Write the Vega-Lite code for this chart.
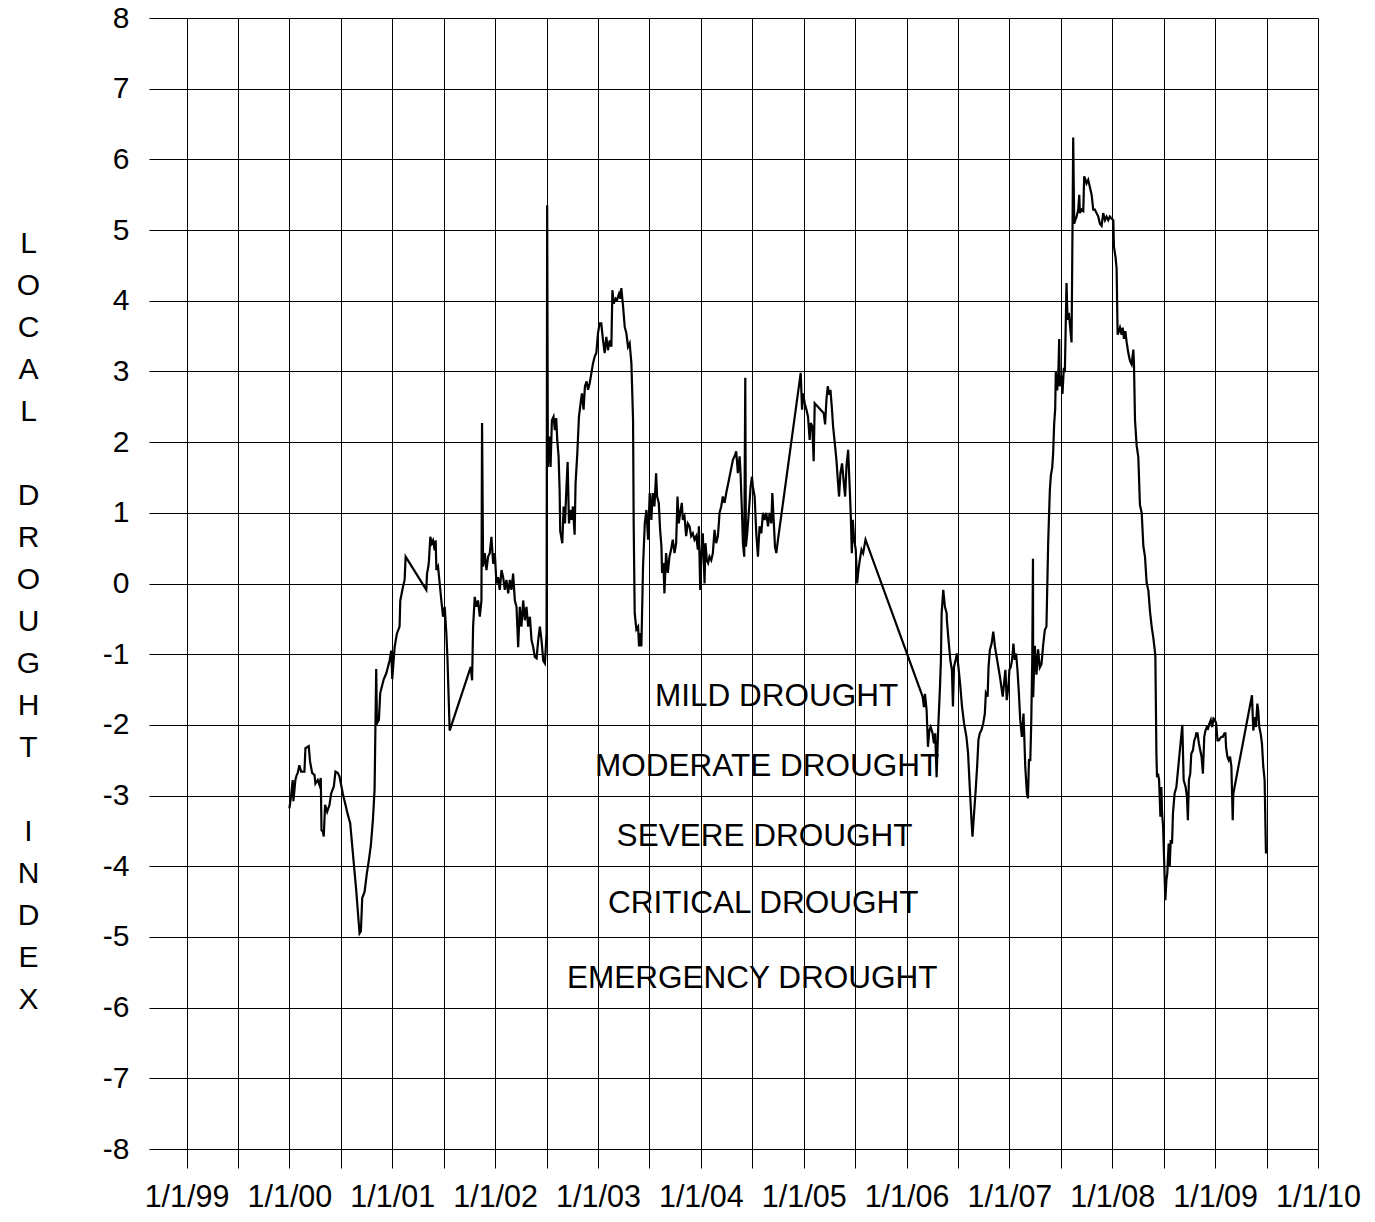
{
  "$schema": "https://vega.github.io/schema/vega-lite/v6.json",
  "width": 1169,
  "height": 1131,
  "autosize": {"type": "none"},
  "padding": {"left": 149, "top": 18, "right": 57, "bottom": 73},
  "background": "white",
  "config": {
    "font": "Liberation Sans",
    "view": {"stroke": null},
    "axis": {"labelColor": "black", "titleColor": "black", "labelFont": "Liberation Sans", "titleFont": "Liberation Sans"}
  },
  "datasets": {
    "ldi": [
      {"year": 2000.000, "index": -3.18}, {"year": 2000.016, "index": -3.01}, {"year": 2000.032, "index": -2.78}, {"year": 2000.039, "index": -3.08},
      {"year": 2000.058, "index": -2.78}, {"year": 2000.071, "index": -2.71}, {"year": 2000.081, "index": -2.68}, {"year": 2000.097, "index": -2.57},
      {"year": 2000.114, "index": -2.66}, {"year": 2000.146, "index": -2.66}, {"year": 2000.156, "index": -2.33}, {"year": 2000.188, "index": -2.30},
      {"year": 2000.201, "index": -2.52}, {"year": 2000.221, "index": -2.68}, {"year": 2000.244, "index": -2.71}, {"year": 2000.253, "index": -2.83},
      {"year": 2000.276, "index": -2.78}, {"year": 2000.292, "index": -2.85}, {"year": 2000.305, "index": -2.75}, {"year": 2000.312, "index": -3.49},
      {"year": 2000.325, "index": -3.51}, {"year": 2000.334, "index": -3.58}, {"year": 2000.347, "index": -3.13}, {"year": 2000.367, "index": -3.23},
      {"year": 2000.390, "index": -3.13}, {"year": 2000.406, "index": -2.97}, {"year": 2000.432, "index": -2.87}, {"year": 2000.448, "index": -2.66},
      {"year": 2000.471, "index": -2.68}, {"year": 2000.487, "index": -2.73}, {"year": 2000.519, "index": -2.97}, {"year": 2000.568, "index": -3.27},
      {"year": 2000.591, "index": -3.39}, {"year": 2000.623, "index": -3.91}, {"year": 2000.649, "index": -4.33}, {"year": 2000.682, "index": -4.95},
      {"year": 2000.695, "index": -4.92}, {"year": 2000.708, "index": -4.45}, {"year": 2000.731, "index": -4.36}, {"year": 2000.753, "index": -4.10},
      {"year": 2000.773, "index": -3.91}, {"year": 2000.792, "index": -3.70}, {"year": 2000.812, "index": -3.34}, {"year": 2000.828, "index": -2.92},
      {"year": 2000.844, "index": -1.21}, {"year": 2000.851, "index": -1.98}, {"year": 2000.870, "index": -1.93}, {"year": 2000.883, "index": -1.55},
      {"year": 2000.916, "index": -1.36}, {"year": 2000.942, "index": -1.27}, {"year": 2000.974, "index": -1.09}, {"year": 2000.990, "index": -0.95},
      {"year": 2001.000, "index": -1.35}, {"year": 2001.023, "index": -0.90}, {"year": 2001.045, "index": -0.71}, {"year": 2001.071, "index": -0.61},
      {"year": 2001.078, "index": -0.24}, {"year": 2001.104, "index": -0.05}, {"year": 2001.120, "index": 0.05}, {"year": 2001.130, "index": 0.38},
      {"year": 2001.331, "index": -0.09}, {"year": 2001.338, "index": 0.14}, {"year": 2001.351, "index": 0.24}, {"year": 2001.357, "index": 0.33},
      {"year": 2001.370, "index": 0.66}, {"year": 2001.383, "index": 0.57}, {"year": 2001.396, "index": 0.61}, {"year": 2001.412, "index": 0.47},
      {"year": 2001.422, "index": 0.61}, {"year": 2001.429, "index": 0.19}, {"year": 2001.445, "index": 0.24}, {"year": 2001.461, "index": 0.0},
      {"year": 2001.477, "index": -0.24}, {"year": 2001.494, "index": -0.47}, {"year": 2001.510, "index": -0.33}, {"year": 2001.526, "index": -0.71},
      {"year": 2001.536, "index": -1.04}, {"year": 2001.558, "index": -2.08}, {"year": 2001.763, "index": -1.18}, {"year": 2001.776, "index": -1.37},
      {"year": 2001.786, "index": -0.61}, {"year": 2001.802, "index": -0.19}, {"year": 2001.818, "index": -0.33}, {"year": 2001.834, "index": -0.24},
      {"year": 2001.851, "index": -0.47}, {"year": 2001.867, "index": -0.24}, {"year": 2001.873, "index": 2.27}, {"year": 2001.883, "index": 0.24},
      {"year": 2001.899, "index": 0.43}, {"year": 2001.916, "index": 0.19}, {"year": 2001.932, "index": 0.38}, {"year": 2001.948, "index": 0.43},
      {"year": 2001.964, "index": 0.66}, {"year": 2001.981, "index": 0.28}, {"year": 2001.997, "index": 0.43}, {"year": 2002.013, "index": 0.0},
      {"year": 2002.029, "index": 0.09}, {"year": 2002.045, "index": -0.09}, {"year": 2002.062, "index": 0.19}, {"year": 2002.078, "index": 0.09},
      {"year": 2002.094, "index": -0.09}, {"year": 2002.110, "index": 0.05}, {"year": 2002.127, "index": -0.14}, {"year": 2002.143, "index": 0.05},
      {"year": 2002.159, "index": -0.09}, {"year": 2002.175, "index": 0.14}, {"year": 2002.192, "index": -0.24}, {"year": 2002.208, "index": -0.33},
      {"year": 2002.224, "index": -0.90}, {"year": 2002.240, "index": -0.33}, {"year": 2002.256, "index": -0.61}, {"year": 2002.273, "index": -0.24},
      {"year": 2002.289, "index": -0.52}, {"year": 2002.305, "index": -0.33}, {"year": 2002.321, "index": -0.61}, {"year": 2002.338, "index": -0.47},
      {"year": 2002.354, "index": -0.80}, {"year": 2002.370, "index": -0.90}, {"year": 2002.386, "index": -1.04}, {"year": 2002.403, "index": -1.06},
      {"year": 2002.419, "index": -0.80}, {"year": 2002.435, "index": -0.61}, {"year": 2002.451, "index": -0.80}, {"year": 2002.468, "index": -1.09},
      {"year": 2002.484, "index": -1.13}, {"year": 2002.500, "index": -0.71}, {"year": 2002.506, "index": 5.35}, {"year": 2002.513, "index": 1.65},
      {"year": 2002.529, "index": 2.08}, {"year": 2002.539, "index": 1.65}, {"year": 2002.552, "index": 2.31}, {"year": 2002.568, "index": 2.36},
      {"year": 2002.581, "index": 2.17}, {"year": 2002.594, "index": 2.34}, {"year": 2002.604, "index": 2.03}, {"year": 2002.617, "index": 1.80},
      {"year": 2002.627, "index": 1.32}, {"year": 2002.633, "index": 0.74}, {"year": 2002.653, "index": 0.57}, {"year": 2002.666, "index": 1.09},
      {"year": 2002.679, "index": 0.85}, {"year": 2002.692, "index": 1.32}, {"year": 2002.705, "index": 1.72}, {"year": 2002.718, "index": 0.85},
      {"year": 2002.731, "index": 1.04}, {"year": 2002.744, "index": 0.90}, {"year": 2002.756, "index": 1.09}, {"year": 2002.773, "index": 0.69},
      {"year": 2002.782, "index": 1.42}, {"year": 2002.799, "index": 1.84}, {"year": 2002.815, "index": 2.36}, {"year": 2002.831, "index": 2.55},
      {"year": 2002.844, "index": 2.69}, {"year": 2002.860, "index": 2.46}, {"year": 2002.873, "index": 2.79}, {"year": 2002.890, "index": 2.86},
      {"year": 2002.903, "index": 2.74}, {"year": 2002.919, "index": 2.83}, {"year": 2002.935, "index": 2.97}, {"year": 2002.951, "index": 3.11},
      {"year": 2002.968, "index": 3.21}, {"year": 2002.984, "index": 3.26}, {"year": 2003.000, "index": 3.54}, {"year": 2003.016, "index": 3.68},
      {"year": 2003.032, "index": 3.68}, {"year": 2003.049, "index": 3.44}, {"year": 2003.065, "index": 3.26}, {"year": 2003.081, "index": 3.49},
      {"year": 2003.097, "index": 3.30}, {"year": 2003.114, "index": 3.44}, {"year": 2003.130, "index": 3.35}, {"year": 2003.140, "index": 4.15},
      {"year": 2003.153, "index": 3.96}, {"year": 2003.172, "index": 4.03}, {"year": 2003.185, "index": 4.01}, {"year": 2003.205, "index": 4.10},
      {"year": 2003.218, "index": 4.03}, {"year": 2003.227, "index": 4.18}, {"year": 2003.244, "index": 3.92}, {"year": 2003.260, "index": 3.63},
      {"year": 2003.276, "index": 3.54}, {"year": 2003.292, "index": 3.35}, {"year": 2003.308, "index": 3.40}, {"year": 2003.325, "index": 3.11},
      {"year": 2003.341, "index": 2.31}, {"year": 2003.347, "index": 0.85}, {"year": 2003.357, "index": -0.42}, {"year": 2003.373, "index": -0.65},
      {"year": 2003.390, "index": -0.61}, {"year": 2003.399, "index": -0.89}, {"year": 2003.412, "index": -0.70}, {"year": 2003.422, "index": -0.89},
      {"year": 2003.438, "index": 0.24}, {"year": 2003.455, "index": 0.85}, {"year": 2003.471, "index": 1.04}, {"year": 2003.487, "index": 0.62},
      {"year": 2003.503, "index": 1.28}, {"year": 2003.519, "index": 0.90}, {"year": 2003.532, "index": 1.28}, {"year": 2003.549, "index": 1.09},
      {"year": 2003.565, "index": 1.56}, {"year": 2003.575, "index": 1.23}, {"year": 2003.591, "index": 1.14}, {"year": 2003.604, "index": 0.76},
      {"year": 2003.617, "index": 0.52}, {"year": 2003.623, "index": 0.15}, {"year": 2003.636, "index": 0.29}, {"year": 2003.646, "index": -0.14},
      {"year": 2003.662, "index": 0.43}, {"year": 2003.679, "index": 0.15}, {"year": 2003.695, "index": 0.38}, {"year": 2003.711, "index": 0.48},
      {"year": 2003.727, "index": 0.62}, {"year": 2003.744, "index": 0.43}, {"year": 2003.760, "index": 0.57}, {"year": 2003.773, "index": 1.23},
      {"year": 2003.786, "index": 0.85}, {"year": 2003.799, "index": 1.0}, {"year": 2003.815, "index": 1.14}, {"year": 2003.825, "index": 0.90},
      {"year": 2003.841, "index": 0.95}, {"year": 2003.857, "index": 0.67}, {"year": 2003.873, "index": 0.85}, {"year": 2003.890, "index": 0.81},
      {"year": 2003.906, "index": 0.67}, {"year": 2003.922, "index": 0.71}, {"year": 2003.938, "index": 0.62}, {"year": 2003.955, "index": 0.67},
      {"year": 2003.971, "index": 0.48}, {"year": 2003.981, "index": 0.81}, {"year": 2003.994, "index": -0.09}, {"year": 2004.003, "index": 0.33},
      {"year": 2004.019, "index": 0.71}, {"year": 2004.036, "index": 0.0}, {"year": 2004.045, "index": 0.57}, {"year": 2004.058, "index": 0.33},
      {"year": 2004.071, "index": 0.29}, {"year": 2004.084, "index": 0.38}, {"year": 2004.101, "index": 0.33}, {"year": 2004.117, "index": 0.43},
      {"year": 2004.133, "index": 0.76}, {"year": 2004.149, "index": 0.57}, {"year": 2004.166, "index": 0.67}, {"year": 2004.182, "index": 1.0},
      {"year": 2004.198, "index": 1.09}, {"year": 2004.214, "index": 1.23}, {"year": 2004.231, "index": 1.14}, {"year": 2004.247, "index": 1.28},
      {"year": 2004.279, "index": 1.51}, {"year": 2004.312, "index": 1.75}, {"year": 2004.328, "index": 1.80}, {"year": 2004.344, "index": 1.87},
      {"year": 2004.360, "index": 1.56}, {"year": 2004.377, "index": 1.80}, {"year": 2004.386, "index": 1.56}, {"year": 2004.399, "index": 1.04},
      {"year": 2004.409, "index": 0.57}, {"year": 2004.422, "index": 0.38}, {"year": 2004.432, "index": 2.91}, {"year": 2004.438, "index": 0.52},
      {"year": 2004.451, "index": 0.71}, {"year": 2004.468, "index": 1.04}, {"year": 2004.484, "index": 1.37}, {"year": 2004.497, "index": 1.51},
      {"year": 2004.506, "index": 1.37}, {"year": 2004.523, "index": 1.23}, {"year": 2004.539, "index": 0.71}, {"year": 2004.555, "index": 0.38},
      {"year": 2004.571, "index": 0.81}, {"year": 2004.588, "index": 0.71}, {"year": 2004.604, "index": 1.0}, {"year": 2004.620, "index": 0.90},
      {"year": 2004.636, "index": 1.0}, {"year": 2004.653, "index": 0.81}, {"year": 2004.669, "index": 1.0}, {"year": 2004.685, "index": 0.85},
      {"year": 2004.695, "index": 1.28}, {"year": 2004.708, "index": 0.90}, {"year": 2004.721, "index": 0.52}, {"year": 2004.734, "index": 0.43},
      {"year": 2004.750, "index": 0.62}, {"year": 2004.971, "index": 2.98}, {"year": 2004.984, "index": 2.46}, {"year": 2004.994, "index": 2.69},
      {"year": 2005.010, "index": 2.55}, {"year": 2005.026, "index": 2.46}, {"year": 2005.042, "index": 2.36}, {"year": 2005.058, "index": 2.03},
      {"year": 2005.068, "index": 2.27}, {"year": 2005.084, "index": 2.22}, {"year": 2005.097, "index": 1.73}, {"year": 2005.107, "index": 2.55},
      {"year": 2005.195, "index": 2.41}, {"year": 2005.208, "index": 2.25}, {"year": 2005.221, "index": 2.60}, {"year": 2005.234, "index": 2.79},
      {"year": 2005.247, "index": 2.67}, {"year": 2005.260, "index": 2.74}, {"year": 2005.273, "index": 2.50}, {"year": 2005.286, "index": 2.22},
      {"year": 2005.302, "index": 1.99}, {"year": 2005.318, "index": 1.75}, {"year": 2005.334, "index": 1.42}, {"year": 2005.344, "index": 1.23},
      {"year": 2005.357, "index": 1.56}, {"year": 2005.373, "index": 1.70}, {"year": 2005.390, "index": 1.42}, {"year": 2005.403, "index": 1.23},
      {"year": 2005.416, "index": 1.66}, {"year": 2005.432, "index": 1.89}, {"year": 2005.448, "index": 1.33}, {"year": 2005.458, "index": 0.95},
      {"year": 2005.468, "index": 0.43}, {"year": 2005.477, "index": 0.90}, {"year": 2005.490, "index": 0.62}, {"year": 2005.506, "index": 0.48},
      {"year": 2005.519, "index": 0.0}, {"year": 2005.532, "index": 0.19}, {"year": 2005.545, "index": 0.33}, {"year": 2005.562, "index": 0.48},
      {"year": 2005.578, "index": 0.43}, {"year": 2005.601, "index": 0.62}, {"year": 2006.156, "index": -1.60}, {"year": 2006.169, "index": -1.75},
      {"year": 2006.179, "index": -1.56}, {"year": 2006.195, "index": -1.79}, {"year": 2006.208, "index": -2.31}, {"year": 2006.221, "index": -2.08},
      {"year": 2006.234, "index": -2.03}, {"year": 2006.253, "index": -2.12}, {"year": 2006.266, "index": -2.26}, {"year": 2006.279, "index": -2.12},
      {"year": 2006.292, "index": -2.74}, {"year": 2006.308, "index": -2.03}, {"year": 2006.325, "index": -1.46}, {"year": 2006.334, "index": -1.08},
      {"year": 2006.341, "index": -0.42}, {"year": 2006.357, "index": -0.09}, {"year": 2006.373, "index": -0.33}, {"year": 2006.390, "index": -0.42},
      {"year": 2006.392, "index": -0.52}, {"year": 2006.408, "index": -0.80}, {"year": 2006.425, "index": -1.08}, {"year": 2006.441, "index": -1.22},
      {"year": 2006.451, "index": -1.74}, {"year": 2006.461, "index": -1.18}, {"year": 2006.477, "index": -1.08}, {"year": 2006.490, "index": -0.99},
      {"year": 2006.507, "index": -1.22}, {"year": 2006.523, "index": -1.46}, {"year": 2006.539, "index": -1.74}, {"year": 2006.559, "index": -1.98},
      {"year": 2006.582, "index": -2.17}, {"year": 2006.598, "index": -2.40}, {"year": 2006.614, "index": -2.87}, {"year": 2006.631, "index": -3.34},
      {"year": 2006.641, "index": -3.58}, {"year": 2006.654, "index": -3.30}, {"year": 2006.670, "index": -2.97}, {"year": 2006.686, "index": -2.59},
      {"year": 2006.699, "index": -2.21}, {"year": 2006.712, "index": -2.12}, {"year": 2006.729, "index": -2.07}, {"year": 2006.745, "index": -1.98},
      {"year": 2006.761, "index": -1.84}, {"year": 2006.771, "index": -1.55}, {"year": 2006.788, "index": -1.60}, {"year": 2006.797, "index": -1.18},
      {"year": 2006.810, "index": -0.94}, {"year": 2006.827, "index": -0.85}, {"year": 2006.843, "index": -0.68}, {"year": 2006.859, "index": -0.89},
      {"year": 2006.876, "index": -1.04}, {"year": 2006.908, "index": -1.32}, {"year": 2006.935, "index": -1.60}, {"year": 2006.948, "index": -1.41},
      {"year": 2006.961, "index": -1.22}, {"year": 2006.974, "index": -1.65}, {"year": 2006.990, "index": -1.46}, {"year": 2007.000, "index": -1.22},
      {"year": 2007.013, "index": -1.18}, {"year": 2007.026, "index": -1.08}, {"year": 2007.039, "index": -0.85}, {"year": 2007.052, "index": -1.08},
      {"year": 2007.065, "index": -0.99}, {"year": 2007.078, "index": -1.22}, {"year": 2007.092, "index": -1.55}, {"year": 2007.105, "index": -1.93},
      {"year": 2007.121, "index": -2.17}, {"year": 2007.137, "index": -1.84}, {"year": 2007.154, "index": -2.59}, {"year": 2007.170, "index": -2.97},
      {"year": 2007.180, "index": -3.04}, {"year": 2007.190, "index": -2.50}, {"year": 2007.203, "index": -2.50}, {"year": 2007.212, "index": -1.98},
      {"year": 2007.222, "index": -1.08}, {"year": 2007.229, "index": 0.35}, {"year": 2007.231, "index": -1.61}, {"year": 2007.247, "index": -0.88},
      {"year": 2007.263, "index": -1.29}, {"year": 2007.279, "index": -0.93}, {"year": 2007.295, "index": -1.19}, {"year": 2007.312, "index": -1.14},
      {"year": 2007.328, "index": -0.87}, {"year": 2007.344, "index": -0.66}, {"year": 2007.360, "index": -0.61}, {"year": 2007.377, "index": 0.59},
      {"year": 2007.393, "index": 1.32}, {"year": 2007.403, "index": 1.53}, {"year": 2007.416, "index": 1.64}, {"year": 2007.425, "index": 1.84},
      {"year": 2007.435, "index": 2.26}, {"year": 2007.445, "index": 2.47}, {"year": 2007.451, "index": 3.0}, {"year": 2007.464, "index": 2.73},
      {"year": 2007.474, "index": 2.89}, {"year": 2007.484, "index": 3.46}, {"year": 2007.490, "index": 2.79}, {"year": 2007.506, "index": 2.94},
      {"year": 2007.516, "index": 2.68}, {"year": 2007.529, "index": 3.05}, {"year": 2007.539, "index": 2.99}, {"year": 2007.555, "index": 4.25},
      {"year": 2007.565, "index": 3.73}, {"year": 2007.578, "index": 3.83}, {"year": 2007.594, "index": 3.57}, {"year": 2007.604, "index": 3.41},
      {"year": 2007.614, "index": 5.14}, {"year": 2007.620, "index": 6.31}, {"year": 2007.630, "index": 5.09}, {"year": 2007.640, "index": 5.14},
      {"year": 2007.653, "index": 5.19}, {"year": 2007.669, "index": 5.29}, {"year": 2007.679, "index": 5.50}, {"year": 2007.685, "index": 5.24},
      {"year": 2007.701, "index": 5.29}, {"year": 2007.718, "index": 5.27}, {"year": 2007.727, "index": 5.76}, {"year": 2007.740, "index": 5.71},
      {"year": 2007.750, "index": 5.66}, {"year": 2007.766, "index": 5.71}, {"year": 2007.782, "index": 5.61}, {"year": 2007.799, "index": 5.50},
      {"year": 2007.815, "index": 5.29}, {"year": 2007.831, "index": 5.29}, {"year": 2007.847, "index": 5.24}, {"year": 2007.864, "index": 5.19},
      {"year": 2007.880, "index": 5.09}, {"year": 2007.896, "index": 5.06}, {"year": 2007.912, "index": 5.24}, {"year": 2007.929, "index": 5.14},
      {"year": 2007.945, "index": 5.19}, {"year": 2007.961, "index": 5.14}, {"year": 2007.977, "index": 5.19}, {"year": 2007.994, "index": 5.16},
      {"year": 2008.010, "index": 5.14}, {"year": 2008.016, "index": 4.77}, {"year": 2008.032, "index": 4.61}, {"year": 2008.042, "index": 4.46},
      {"year": 2008.052, "index": 3.52}, {"year": 2008.065, "index": 3.57}, {"year": 2008.075, "index": 3.62}, {"year": 2008.091, "index": 3.52},
      {"year": 2008.101, "index": 3.62}, {"year": 2008.114, "index": 3.46}, {"year": 2008.127, "index": 3.57}, {"year": 2008.140, "index": 3.41},
      {"year": 2008.156, "index": 3.26}, {"year": 2008.172, "index": 3.15}, {"year": 2008.188, "index": 3.10}, {"year": 2008.205, "index": 3.31},
      {"year": 2008.211, "index": 3.10}, {"year": 2008.221, "index": 2.31}, {"year": 2008.237, "index": 1.95}, {"year": 2008.253, "index": 1.79},
      {"year": 2008.269, "index": 1.11}, {"year": 2008.286, "index": 1.0}, {"year": 2008.302, "index": 0.53}, {"year": 2008.318, "index": 0.38},
      {"year": 2008.334, "index": 0.01}, {"year": 2008.351, "index": -0.10}, {"year": 2008.367, "index": -0.40}, {"year": 2008.383, "index": -0.61},
      {"year": 2008.399, "index": -0.77}, {"year": 2008.416, "index": -0.98}, {"year": 2008.419, "index": -1.04}, {"year": 2008.429, "index": -2.41},
      {"year": 2008.435, "index": -2.74}, {"year": 2008.445, "index": -2.69}, {"year": 2008.455, "index": -2.78}, {"year": 2008.468, "index": -3.30},
      {"year": 2008.477, "index": -2.88}, {"year": 2008.484, "index": -3.25}, {"year": 2008.494, "index": -3.44}, {"year": 2008.503, "index": -3.87},
      {"year": 2008.516, "index": -4.48}, {"year": 2008.526, "index": -4.20}, {"year": 2008.535, "index": -4.10}, {"year": 2008.548, "index": -3.68},
      {"year": 2008.558, "index": -4.01}, {"year": 2008.568, "index": -3.63}, {"year": 2008.581, "index": -3.68}, {"year": 2008.590, "index": -3.25},
      {"year": 2008.606, "index": -2.97}, {"year": 2008.623, "index": -2.88}, {"year": 2008.648, "index": -2.50}, {"year": 2008.681, "index": -2.0},
      {"year": 2008.694, "index": -2.78}, {"year": 2008.713, "index": -2.88}, {"year": 2008.726, "index": -3.02}, {"year": 2008.735, "index": -3.35},
      {"year": 2008.745, "index": -2.78}, {"year": 2008.758, "index": -2.69}, {"year": 2008.768, "index": -2.41}, {"year": 2008.784, "index": -2.36},
      {"year": 2008.797, "index": -2.22}, {"year": 2008.810, "index": -2.17}, {"year": 2008.816, "index": -2.12}, {"year": 2008.829, "index": -2.12},
      {"year": 2008.842, "index": -2.26}, {"year": 2008.855, "index": -2.36}, {"year": 2008.868, "index": -2.45}, {"year": 2008.881, "index": -2.69},
      {"year": 2008.894, "index": -2.17}, {"year": 2008.906, "index": -2.08}, {"year": 2008.919, "index": -2.03}, {"year": 2008.932, "index": -2.05},
      {"year": 2008.945, "index": -1.98}, {"year": 2008.958, "index": -1.93}, {"year": 2008.971, "index": -2.03}, {"year": 2008.984, "index": -1.91},
      {"year": 2008.997, "index": -1.93}, {"year": 2009.010, "index": -1.98}, {"year": 2009.023, "index": -2.22}, {"year": 2009.035, "index": -2.22},
      {"year": 2009.048, "index": -2.19}, {"year": 2009.061, "index": -2.17}, {"year": 2009.074, "index": -2.17}, {"year": 2009.090, "index": -2.12},
      {"year": 2009.100, "index": -2.12}, {"year": 2009.106, "index": -2.31}, {"year": 2009.119, "index": -2.45}, {"year": 2009.132, "index": -2.50},
      {"year": 2009.145, "index": -2.45}, {"year": 2009.158, "index": -2.59}, {"year": 2009.171, "index": -3.35}, {"year": 2009.177, "index": -2.97},
      {"year": 2009.358, "index": -1.58}, {"year": 2009.371, "index": -2.08}, {"year": 2009.384, "index": -1.89}, {"year": 2009.397, "index": -2.03},
      {"year": 2009.410, "index": -1.70}, {"year": 2009.419, "index": -1.79}, {"year": 2009.429, "index": -2.03}, {"year": 2009.442, "index": -2.12},
      {"year": 2009.455, "index": -2.26}, {"year": 2009.468, "index": -2.59}, {"year": 2009.481, "index": -2.78}, {"year": 2009.494, "index": -3.82}
    ],
    "zones": [
      {"year": 2004.737, "index": -1.61, "label": "MILD DROUGHT"},
      {"year": 2004.645, "index": -2.59, "label": "MODERATE DROUGHT"},
      {"year": 2004.619, "index": -3.58, "label": "SEVERE DROUGHT"},
      {"year": 2004.607, "index": -4.53, "label": "CRITICAL DROUGHT"},
      {"year": 2004.500, "index": -5.59, "label": "EMERGENCY DROUGHT"}
    ]
  },
  "layer": [
    {
      "data": {"name": "ldi"},
      "mark": {"type": "line", "color": "black", "strokeWidth": 2.2, "clip": true},
      "encoding": {
        "x": {
          "field": "year", "type": "quantitative",
          "scale": {"domain": [1998.635, 2010], "nice": false, "zero": false},
          "axis": {
            "values": [1999, 1999.5, 2000, 2000.5, 2001, 2001.5, 2002, 2002.5, 2003, 2003.5, 2004, 2004.5, 2005, 2005.5, 2006, 2006.5, 2007, 2007.5, 2008, 2008.5, 2009, 2009.5, 2010],
            "labelExpr": "datum.value % 1 === 0 ? '1/1/' + substring(toString(datum.value), 2, 4) : ''",
            "title": null,
            "grid": true, "gridColor": "black", "gridWidth": 1, "gridOpacity": 1,
            "domain": false,
            "ticks": true, "tickColor": "black", "tickSize": 19, "tickWidth": 1,
            "labelFontSize": 30.5, "labelPadding": 14, "labelOverlap": false, "labelFlush": false, "labelBound": false
          }
        },
        "y": {
          "field": "index", "type": "quantitative",
          "scale": {"domain": [-8, 8], "nice": false, "zero": false},
          "axis": {
            "values": [-8, -7, -6, -5, -4, -3, -2, -1, 0, 1, 2, 3, 4, 5, 6, 7, 8],
            "labelExpr": "toString(datum.value)",
            "grid": true, "gridColor": "black", "gridWidth": 1, "gridOpacity": 1,
            "domain": false, "ticks": false,
            "labelFontSize": 30, "labelPadding": 20, "labelOverlap": false, "labelFlush": false,
            "title": ["L", "O", "C", "A", "L", "\u200b", "D", "R", "O", "U", "G", "H", "T", "\u200b", "I", "N", "D", "E", "X"],
            "titleAngle": 0, "titleX": -121, "titleY": 225, "titleAlign": "center", "titleBaseline": "middle",
            "titleFontSize": 30, "titleFontWeight": "normal", "titleLineHeight": 42
          }
        }
      }
    },
    {
      "data": {"name": "zones"},
      "mark": {"type": "text", "fontSize": 31.5, "color": "black", "align": "center", "baseline": "middle", "font": "Liberation Sans"},
      "encoding": {
        "x": {"field": "year", "type": "quantitative"},
        "y": {"field": "index", "type": "quantitative"},
        "text": {"field": "label"}
      }
    }
  ]
}
